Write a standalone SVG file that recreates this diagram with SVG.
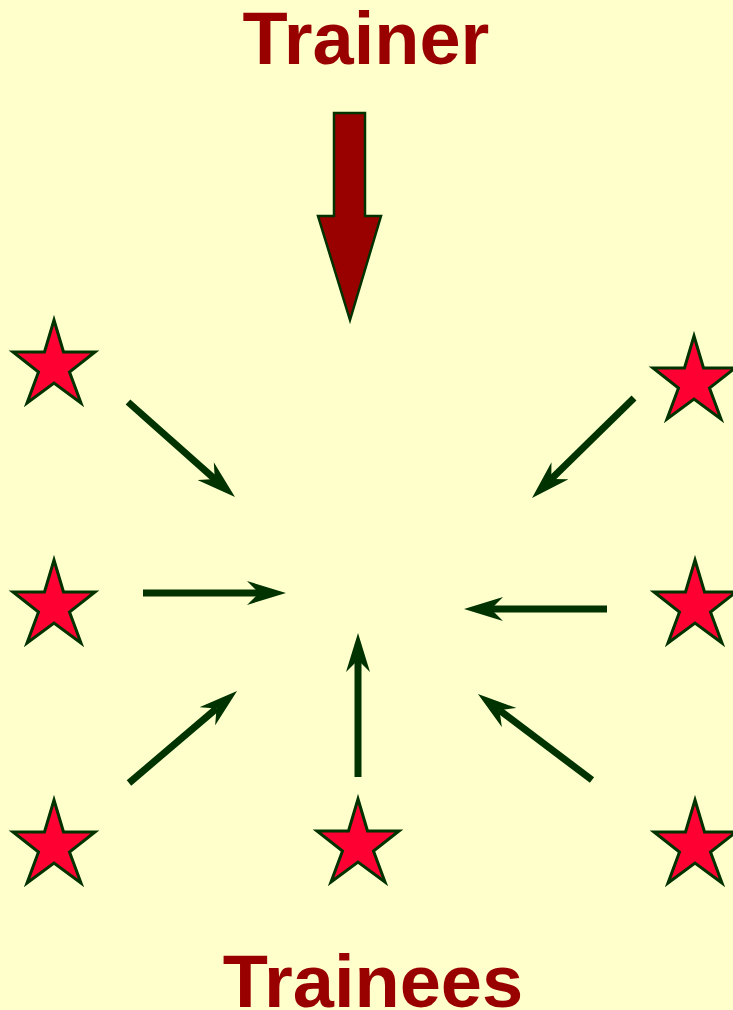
<svg xmlns="http://www.w3.org/2000/svg" xmlns:xlink="http://www.w3.org/1999/xlink" width="733" height="1010" viewBox="0 0 733 1010">
  <style>
    .title { font-family: "Liberation Sans", Arial, sans-serif; font-weight: bold; font-size: 74px; fill: #990000; text-anchor: middle; }
    .star { fill: #FF0033; stroke: #003300; stroke-width: 3; stroke-linejoin: miter; }
    .conn { stroke: #003300; stroke-width: 7; fill: none; stroke-linecap: butt; marker-end: url(#head); }
  </style>
  <defs>
    <marker id="head" viewBox="0 0 39 24" markerUnits="userSpaceOnUse" markerWidth="39" markerHeight="24" refX="12" refY="12" orient="auto">
      <path d="M 39 12 L 0 0 L 12 12 L 0 24 Z" fill="#003300"/>
    </marker>
    <path id="starShape" d="M 0 0 L 9.5 32 L 41 32 L 15.5 52 L 27 83 L 0 63 L -27 83 L -15.5 52 L -41 32 L -9.5 32 Z"/>
  </defs>
  <rect x="0" y="0" width="733" height="1010" fill="#FFFFCC"/>

  <g id="trainer">
    <text class="title" x="366" y="64">Trainer</text>
  </g>
  <g id="trainer-arrow">
    <polygon points="334,113 365,113 365,216 381,216 350,320 318,216 334,216" fill="#990000" stroke="#003300" stroke-width="2.5"/>
  </g>

  <g id="star-top-left"><use xlink:href="#starShape" class="star" transform="translate(54,320)"/></g>
  <g id="star-top-right"><use xlink:href="#starShape" class="star" transform="translate(694,336)"/></g>
  <g id="star-mid-left"><use xlink:href="#starShape" class="star" transform="translate(54,560)"/></g>
  <g id="star-mid-right"><use xlink:href="#starShape" class="star" transform="translate(695,560)"/></g>
  <g id="star-bottom-left"><use xlink:href="#starShape" class="star" transform="translate(54,800)"/></g>
  <g id="star-bottom-center"><use xlink:href="#starShape" class="star" transform="translate(358,799)"/></g>
  <g id="star-bottom-right"><use xlink:href="#starShape" class="star" transform="translate(695,800)"/></g>

  <g id="connectors">
    <line class="conn" x1="128" y1="402" x2="214.8" y2="479.1"/>
    <line class="conn" x1="143" y1="593" x2="259" y2="593"/>
    <line class="conn" x1="607" y1="609" x2="491" y2="609"/>
    <line class="conn" x1="129" y1="783" x2="216.5" y2="708.5"/>
    <line class="conn" x1="358" y1="777" x2="358" y2="660"/>
    <line class="conn" x1="592" y1="780" x2="499.5" y2="710.3"/>
    <line class="conn" x1="634" y1="398" x2="551.3" y2="479.1"/>
  </g>

  <g id="trainees">
    <text class="title" x="373" y="1007">Trainees</text>
  </g>
</svg>
